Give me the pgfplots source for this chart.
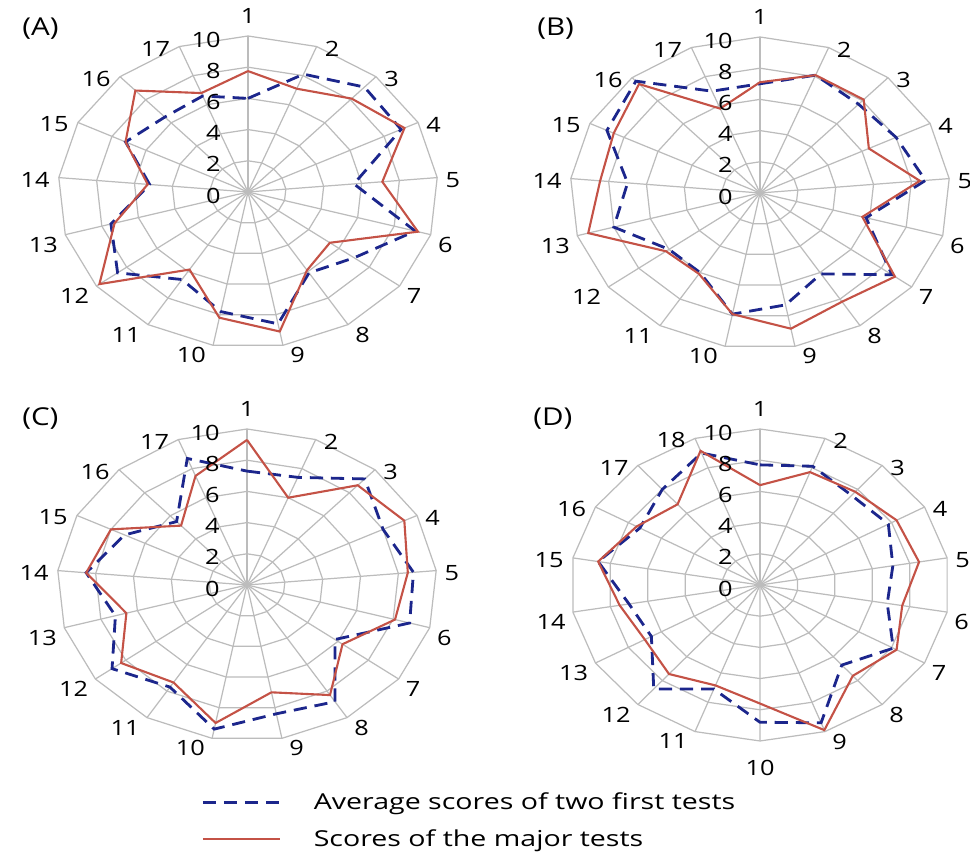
\documentclass[border=0pt]{standalone}
\usepackage{fontspec}
\setmainfont{Open Sans}[FakeStretch=1.2]
\newfontfamily\legfont{Open Sans}[FakeStretch=1.3]
\usepackage{pgfplots}
\pgfplotsset{compat=1.18}
\usepgfplotslibrary{polar}
\definecolor{gridc}{RGB}{188,188,188}
\definecolor{redc}{RGB}{196,82,70}
\definecolor{bluec}{RGB}{28,38,140}
\newcommand\lblfont{\fontsize{12}{14}\selectfont}
\pgfplotsset{
 radar/.style={x=0.38cm, y=0.312cm, xmin=-13, xmax=13, ymin=-12.5, ymax=12.5,
   hide axis, clip=false, anchor=center, data cs=polar},
 gridline/.style={gridc, line width=0.7pt, forget plot, no marks},
 major/.style={redc, line width=1.2pt, no marks},
 avg/.style={bluec, line width=1.6pt, no marks, dash pattern=on 7.5pt off 4.5pt},
}
% #1 = number of axes, #2 = #1-1, #3 = #1+1
\newcommand\radargrid[3]{%
 \pgfplotsinvokeforeach{2,4,6,8,10}{\addplot[gridline, domain=0:#1, samples=#3] ({90-x*360/#1},{##1});}
 \pgfplotsinvokeforeach{0,...,#2}{\addplot[gridline, domain=0:10, samples=2] ({90-##1*360/#1},{x});}
}
% #1 cx (cm), #2 cy (cm), #3 number of axes
\newcommand\catlabels[3]{%
 \foreach \i in {1,...,#3}{%
  \pgfmathsetmacro\ang{90-(\i-1)*360/#3}%
  \pgfmathsetmacro\px{#1+3.8*cos(\ang)}%
  \pgfmathsetmacro\py{#2+3.12*sin(\ang)}%
  \ifdim\ang pt>89.9pt \def\anc{south}\def\xs{0}\def\ys{0.24}%
  \else\ifdim\ang pt>0pt \def\anc{west}\def\xs{0.16}\def\ys{-0.04}%
  \else\ifdim\ang pt>-89.9pt \def\anc{north west}\def\xs{0.14}\def\ys{-0.04}%
  \else\ifdim\ang pt>-90.1pt \def\anc{north}\def\xs{0}\def\ys{-0.38}%
  \else\ifdim\ang pt>-180pt \def\anc{north east}\def\xs{-0.14}\def\ys{-0.04}%
  \else \def\anc{east}\def\xs{-0.18}\def\ys{-0.04}%
  \fi\fi\fi\fi\fi
  \node[anchor=\anc, xshift=\xs cm, yshift=\ys cm, inner sep=0pt, font=\lblfont] at (\px,\py) {\i};
 }%
 \foreach \v in {0,2,...,10}{%
  \node[anchor=east, inner sep=0pt, font=\lblfont] at (#1-0.54,{#2+0.312*\v-0.07}) {\v};
 }%
}
\begin{document}
\begin{tikzpicture}
\useasboundingbox (0,0) rectangle (19.4,17.1);
\clip (0,0) rectangle (19.4,17.1);

% ---------- (A) ----------
\begin{axis}[radar, at={(4.96cm,13.26cm)}]
\radargrid{17}{16}{18}
\addplot[avg] coordinates {(90,6.0) (68.8235,8.1) (47.6471,9.1) (26.4706,9.0) (5.2941,5.6) (-15.8824,9.15) (-37.0588,7.0) (-58.2353,6.1) (-79.4118,8.6) (-100.5882,7.8) (-121.7647,6.6) (-142.9412,8.6) (-164.1176,7.5) (-185.2941,5.2) (-206.4706,7.2) (-227.6471,6.5) (-248.8235,6.6) (-270,6.0)};
\addplot[major] coordinates {(90,7.75) (68.8235,7.1) (47.6471,8.1) (26.4706,9.2) (5.2941,7.1) (-15.8824,9.3) (-37.0588,5.4) (-58.2353,5.9) (-79.4118,9.1) (-100.5882,8.2) (-121.7647,5.85) (-142.9412,9.8) (-164.1176,7.3) (-185.2941,5.3) (-206.4706,7.2) (-227.6471,8.8) (-248.8235,6.8) (-270,7.75)};
\end{axis}

% ---------- (B) ----------
\begin{axis}[radar, at={(15.2cm,13.24cm)}]
\radargrid{17}{16}{18}
\addplot[avg] coordinates {(90,7.0) (68.8235,8.1) (47.6471,7.7) (26.4706,8.0) (5.2941,8.75) (-15.8824,5.8) (-37.0588,8.7) (-58.2353,6.1) (-79.4118,7.3) (-100.5882,7.9) (-121.7647,6.0) (-142.9412,6.0) (-164.1176,8.0) (-185.2941,7.0) (-206.4706,9.0) (-227.6471,9.7) (-248.8235,7.0) (-270,7.0)};
\addplot[major] coordinates {(90,7.1) (68.8235,8.1) (47.6471,8.1) (26.4706,6.4) (5.2941,8.45) (-15.8824,5.6) (-37.0588,8.9) (-58.2353,8.2) (-79.4118,8.85) (-100.5882,7.9) (-121.7647,6.1) (-142.9412,6.2) (-164.1176,9.4) (-185.2941,8.45) (-206.4706,8.6) (-227.6471,9.45) (-248.8235,5.8) (-270,7.1)};
\end{axis}

% ---------- (C) ----------
\begin{axis}[radar, at={(4.94cm,5.4cm)},
  legend style={at={(axis cs:-2.4,-15.12)}, anchor=west, draw=none, fill=none,
    inner sep=0pt, outer sep=0pt, row sep=0.34cm, font=\legfont\fontsize{12.5}{14}\selectfont,
    nodes={inner sep=0pt, anchor=west}},
  legend image code/.code={\draw[#1] (0cm,0cm) -- (1.54cm,0cm); \path[draw=none, fill=none] (1.54cm,0cm) -- (2.22cm,0cm);},
  legend cell align=left]
\radargrid{17}{16}{18}
\addplot[avg] coordinates {(90,7.3) (68.8235,7.4) (47.6471,9.2) (26.4706,8.0) (5.2941,8.8) (-15.8824,8.9) (-37.0588,5.8) (-58.2353,8.8) (-79.4118,8.4) (-100.5882,9.4) (-121.7647,7.7) (-142.9412,8.9) (-164.1176,7.2) (-185.2941,8.5) (-206.4706,7.2) (-227.6471,5.5) (-248.8235,8.7) (-270,7.3)};
\addplot[major] coordinates {(90,9.3) (68.8235,6.0) (47.6471,8.65) (26.4706,9.25) (5.2941,8.5) (-15.8824,8.1) (-37.0588,6.3) (-58.2353,8.3) (-79.4118,7.0) (-100.5882,9.0) (-121.7647,7.35) (-142.9412,8.3) (-164.1176,6.6) (-185.2941,8.5) (-206.4706,8.0) (-227.6471,5.15) (-248.8235,7.5) (-270,9.3)};
\legend{Average scores of two first tests, Scores of the major tests}
\end{axis}

% ---------- (D) ----------
\begin{axis}[radar, at={(15.2cm,5.4cm)}]
\radargrid{18}{17}{19}
\addplot[avg] coordinates {(90,7.7) (70,8.1) (50,7.5) (30,7.8) (10,7.1) (-10,6.8) (-30,8.1) (-50,6.7) (-70,9.4) (-90,8.8) (-110,7.1) (-130,8.7) (-150,6.6) (-170,7.0) (-190,8.65) (-210,7.3) (-230,8.0) (-250,9.0) (-270,7.7)};
\addplot[major] coordinates {(90,6.4) (70,7.7) (50,7.8) (30,8.3) (10,8.5) (-10,7.6) (-30,8.3) (-50,7.6) (-70,9.9) (-90,7.6) (-110,6.85) (-130,7.45) (-150,7.0) (-170,7.5) (-190,8.65) (-210,7.5) (-230,6.75) (-250,9.15) (-270,6.4)};
\end{axis}

\catlabels{4.96}{13.26}{17}
\catlabels{15.2}{13.24}{17}
\catlabels{4.94}{5.4}{17}
\catlabels{15.2}{5.4}{18}

\node[anchor=west, inner sep=0pt, font=\fontsize{14}{16}\selectfont] at (0.44,16.52) {(A)};
\node[anchor=west, inner sep=0pt, font=\fontsize{14}{16}\selectfont] at (10.74,16.52) {(B)};
\node[anchor=west, inner sep=0pt, font=\fontsize{14}{16}\selectfont] at (0.44,8.72) {(C)};
\node[anchor=west, inner sep=0pt, font=\fontsize{14}{16}\selectfont] at (10.66,8.72) {(D)};
\end{tikzpicture}
\end{document}
